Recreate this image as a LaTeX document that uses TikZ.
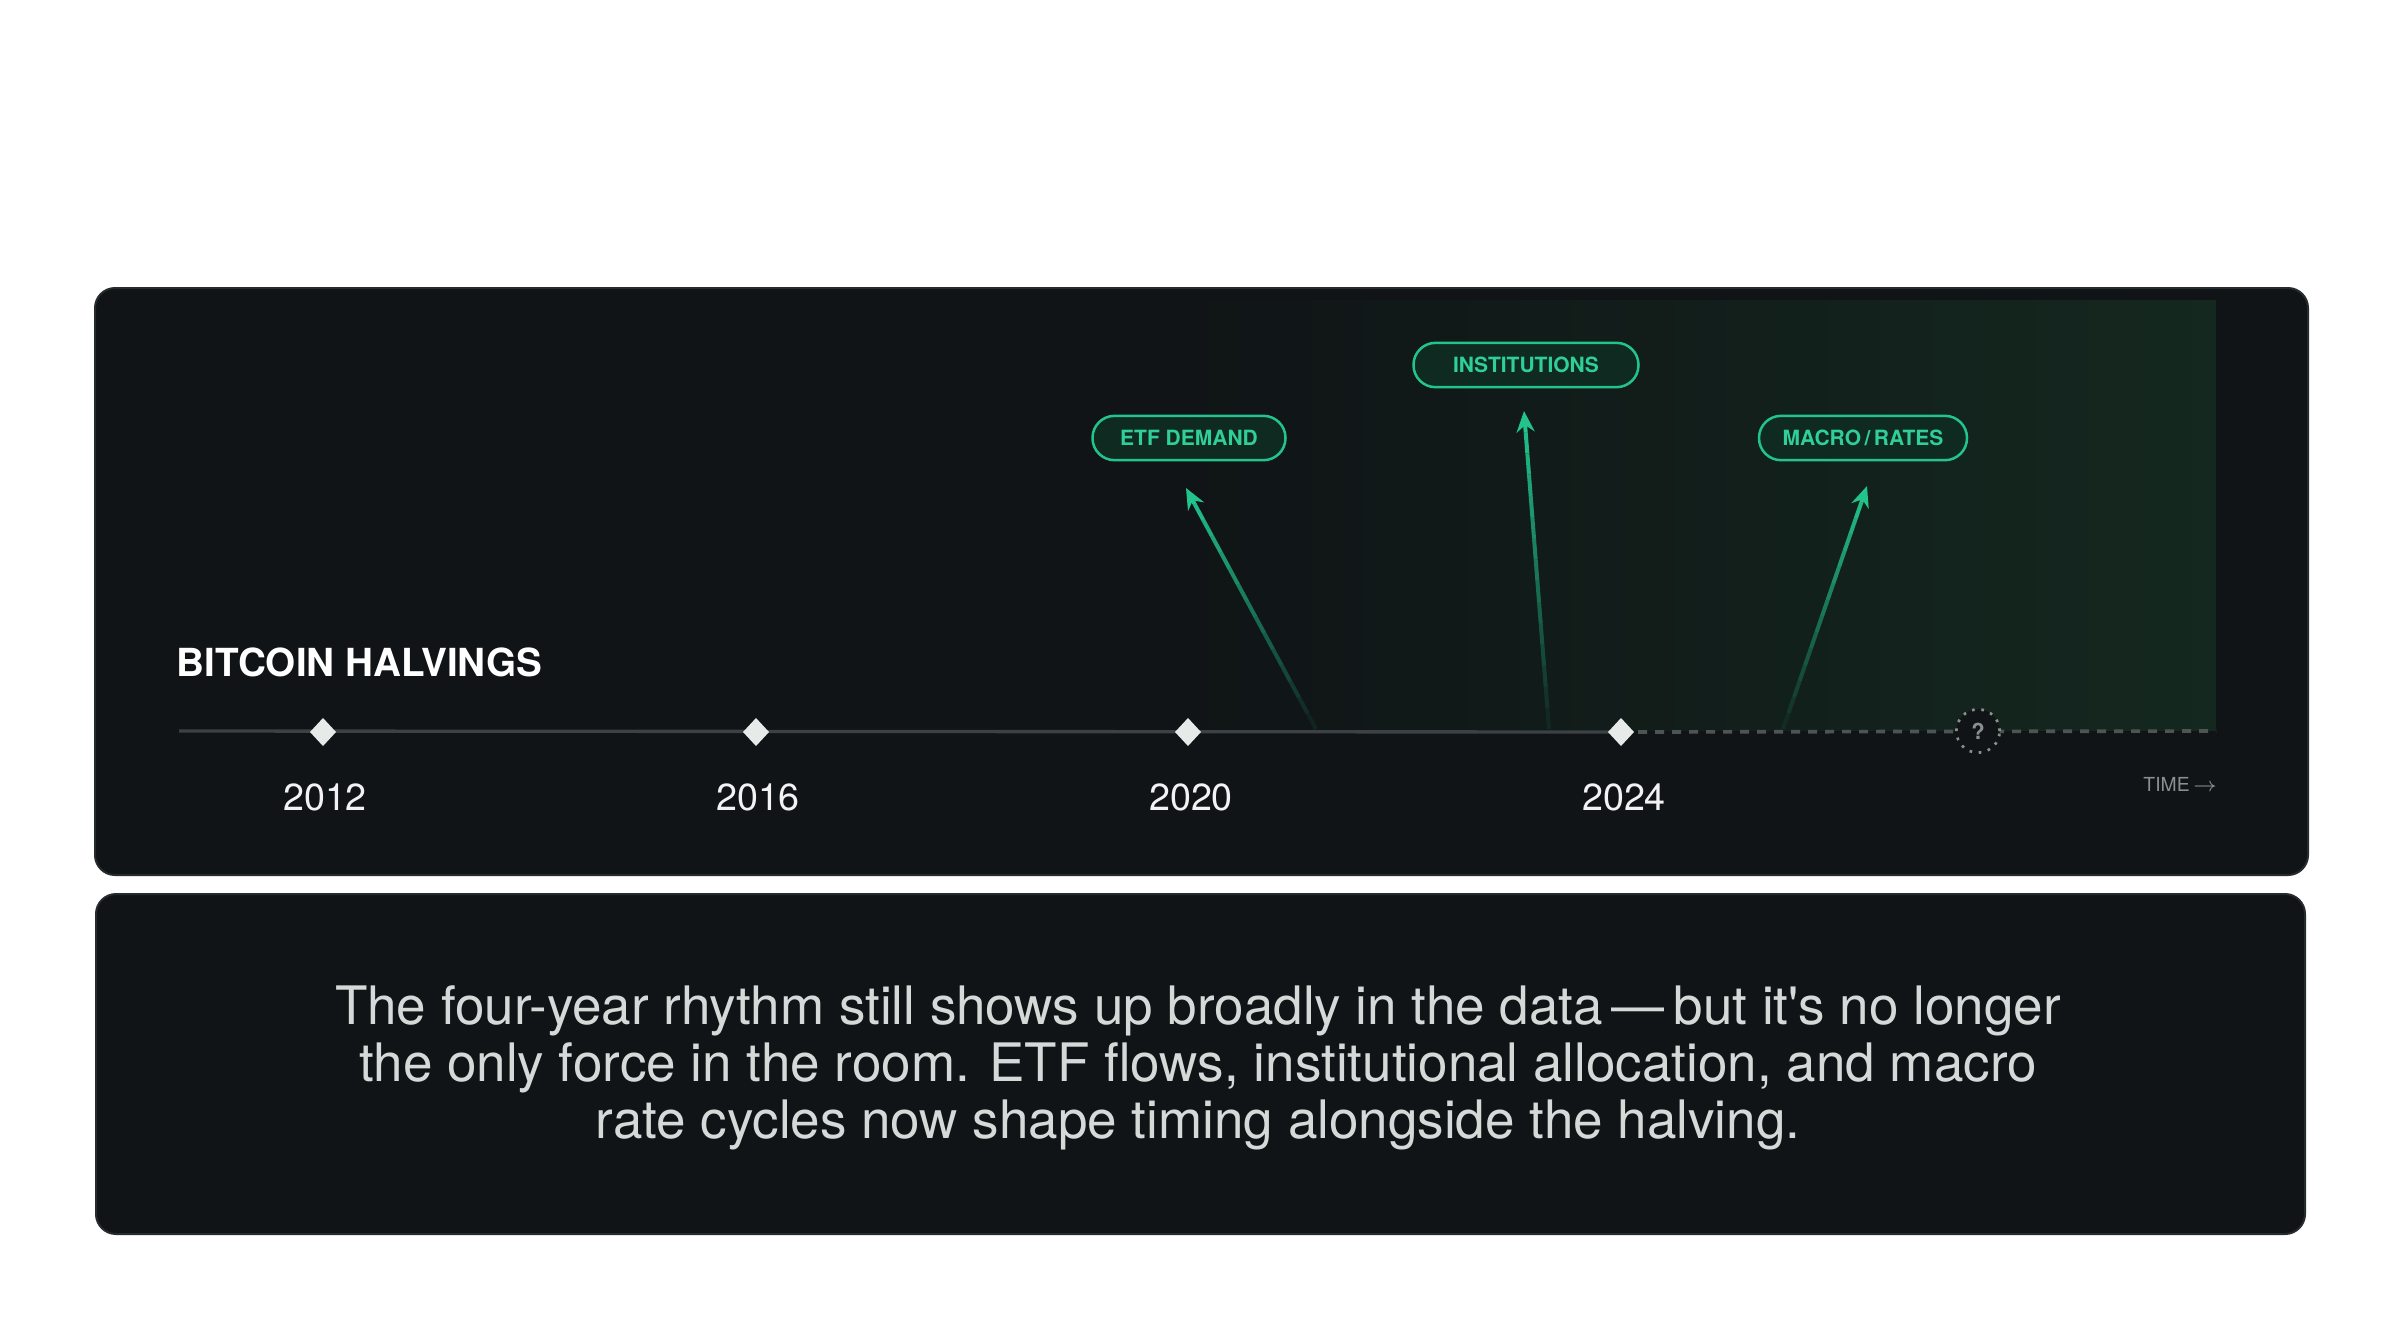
\documentclass[tikz,border=0pt]{standalone}
\usepackage{fontspec}
\setmainfont{TeX Gyre Heros}
\usetikzlibrary{arrows.meta,calc}
\newcommand\straightquote{{\XeTeXglyph\XeTeXglyphindex "quotesingle"\relax}}
\definecolor{panel}{HTML}{101416}
\definecolor{paneledge}{HTML}{262B2D}
\definecolor{greenbg}{HTML}{14281F}
\definecolor{tline}{HTML}{3C4143}
\definecolor{dline}{HTML}{4D5553}
\definecolor{diam}{HTML}{E6EBE9}
\definecolor{accent}{HTML}{22C48C}
\definecolor{pillfill}{HTML}{0E2A21}
\definecolor{pilltext}{HTML}{2FCF97}
\definecolor{bodytext}{HTML}{D5DAD8}
\definecolor{mute}{HTML}{8A908E}
\tikzset{
  panelbox/.style={fill=panel,draw=paneledge,line width=0.6pt,rounded corners=6pt},
  diamondmark/.style={fill=diam,inner sep=0pt,minimum width=0pt},
  yearlabel/.style={text=white!95!black,font=\fontsize{11.3pt}{12pt}\selectfont,anchor=center},
  pill/.style={draw=accent,fill=pillfill,line width=0.75pt,rounded corners=6.6pt,minimum height=13.3pt,inner xsep=4pt,text=pilltext,font=\bfseries\fontsize{6.3pt}{7pt}\selectfont},
  fadearrow/.style={accent,line width=1.2pt},
}
\begin{document}
\begin{tikzpicture}[x=0.3pt,y=-0.3pt]
\useasboundingbox[fill=white] (0,0) rectangle (2400,1318);
% top panel
\draw[panelbox] (95,288) rectangle (2308,875);
% green gradient area
\shade[left color=panel,right color=greenbg] (1183,300) rectangle (2216,730);
% bottom panel
\draw[panelbox] (96,894) rectangle (2305,1234);

% title
\node[anchor=west,inner sep=0pt,text=white,font=\bfseries\fontsize{11.6pt}{12pt}\selectfont] (title) at (176,662) {BITCOIN HALVINGS};

% timeline
\coordinate (tl0) at (179,731);
\coordinate (tlend) at (2216,731);
\node[diamondmark] (d12) at (323,732) {};
\node[diamondmark] (d16) at (756,732) {};
\node[diamondmark] (d20) at (1188,732) {};
\node[diamondmark] (d24) at (1621,732) {};
\draw[tline,line width=1pt] (tl0) -- (d24.center);
\draw[dline,line width=1.1pt,dash pattern=on 2.7pt off 2.4pt] (d24.center) -- (tlend);
\foreach \n in {d12,d16,d20,d24}{
  \fill[diam] ($(\n)+(-13,0)$) -- ($(\n)+(0,-14)$) -- ($(\n)+(13,0)$) -- ($(\n)+(0,14)$) -- cycle;
}
\node[circle,draw=mute,fill=panel,dotted,line width=0.8pt,minimum size=13pt,inner sep=0pt,text=mute,font=\bfseries\fontsize{6.6pt}{7pt}\selectfont] (q) at (1978,731) {?};

% years
\node[yearlabel] (y12) at (325,797) {2012};
\node[yearlabel] (y16) at (758,797) {2016};
\node[yearlabel] (y20) at (1191,797) {2020};
\node[yearlabel] (y24) at (1624,797) {2024};
\node[anchor=east,inner sep=0pt,text=mute,font=\fontsize{5.8pt}{6pt}\selectfont] (time) at (2218,784) {TIME\,$\rightarrow$};

% pills
\node[pill,minimum width=57.9pt] (etf) at (1189,438) {ETF DEMAND};
\node[pill,minimum width=67.5pt] (inst) at (1526,365) {INSTITUTIONS};
\node[pill,minimum width=62.4pt] (macro) at (1863,438) {MACRO\,/\,RATES};

% arrows
\coordinate (a1s) at (1316,729); \coordinate (a1e) at (1186,488);
\coordinate (a2s) at (1549,729); \coordinate (a2e) at (1524,411);
\coordinate (a3s) at (1783,729); \coordinate (a3e) at (1867,486);
\foreach \s/\e in {a1s/a1e,a2s/a2e,a3s/a3e}{
  \foreach \i in {0,...,13}{
    \pgfmathsetmacro\ta{\i/15}
    \pgfmathsetmacro\tb{(\i+1)/15}
    \pgfmathsetmacro\op{0.08+0.92*\i/14}
    \draw[fadearrow,opacity=\op] ($(\s)!\ta!(\e)$) -- ($(\s)!\tb!(\e)$);
  }
  \draw[fadearrow,-{Stealth[length=6.3pt,width=5.4pt]}] ($(\s)!14/15!(\e)$) -- (\e);
}

% bottom text
\node[text=bodytext,align=center,font=\fontsize{15.9pt}{17.1pt}\selectfont] (body) at (1198,1068)
 {The four-year rhythm still shows up broadly in the data\,---\,but it\straightquote s no longer\\
  the only force in the room. ETF flows, institutional allocation, and macro\\
  rate cycles now shape timing alongside the halving.};
\end{tikzpicture}
\end{document}
